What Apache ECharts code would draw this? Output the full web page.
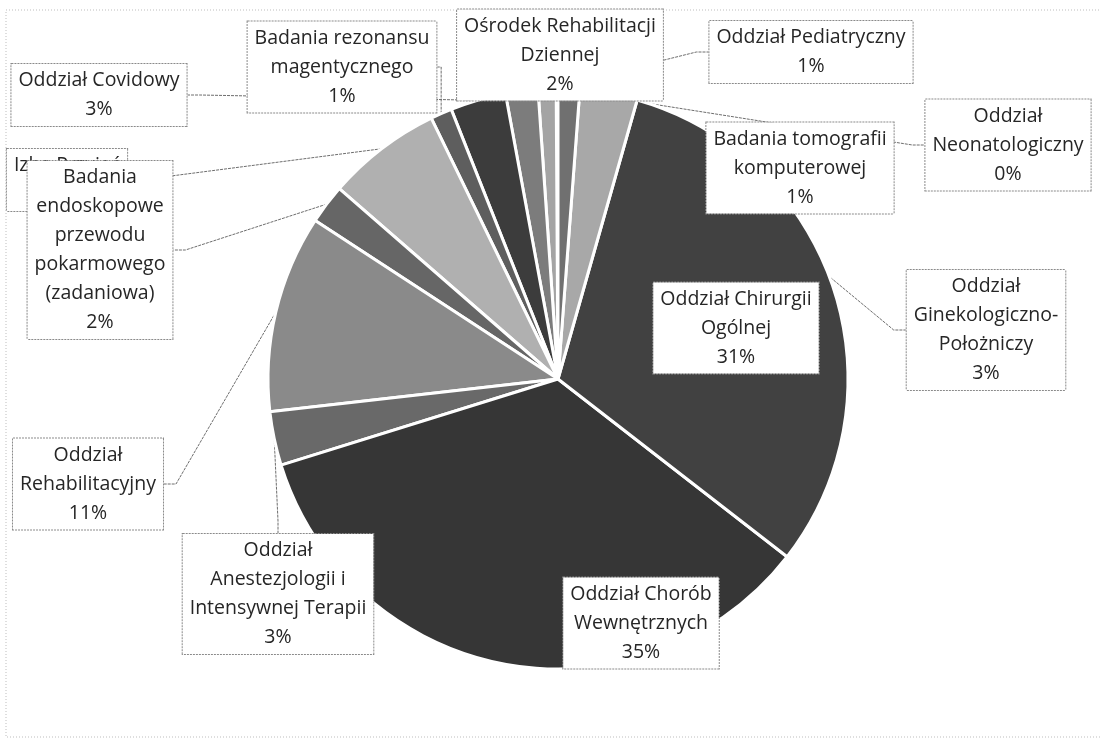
<!DOCTYPE html>
<html>
<head>
<meta charset="utf-8">
<script src="https://cdn.jsdelivr.net/npm/echarts@6/dist/echarts.min.js"></script>
<style>
  html, body { margin: 0; padding: 0; background: #fff; }
  #chart { width: 1100px; height: 741px; }
</style>
</head>
<body>
<div id="chart"></div>
<script>
// kolejność przeciwnie do ruchu wskazówek zegara, od godziny 12
var categories = [
    'Oddział Neonatologiczny',
    'Oddział Pediatryczny',
    'Ośrodek Rehabilitacji Dziennej',
    'Oddział Covidowy',
    'Badania rezonansu magentycznego',
    'Izba Przyjęć',
    'Badania endoskopowe przewodu pokarmowego (zadaniowa)',
    'Oddział Rehabilitacyjny',
    'Oddział Anestezjologii i Intensywnej Terapii',
    'Oddział Chorób Wewnętrznych',
    'Oddział Chirurgii Ogólnej',
    'Oddział Ginekologiczno-Położniczy',
    'Badania tomografii komputerowej'
];
// udział procentowy
var values = [0.1, 1.0, 1.8, 3.1, 1.2, 6.4, 2.2, 11.0, 3.0, 34.7, 31.1, 3.2, 1.2];

// podpisy łamane jak w oryginale
var labelNames = [
    'Oddział\nNeonatologiczny',
    'Oddział Pediatryczny',
    'Ośrodek Rehabilitacji\nDziennej',
    'Oddział Covidowy',
    'Badania rezonansu\nmagentycznego',
    'Izba Przyjęć',
    'Badania\nendoskopowe\nprzewodu\npokarmowego\n(zadaniowa)',
    'Oddział\nRehabilitacyjny',
    'Oddział\nAnestezjologii i\nIntensywnej Terapii',
    'Oddział Chorób\nWewnętrznych',
    'Oddział Chirurgii\nOgólnej',
    'Oddział\nGinekologiczno-\nPołożniczy',
    'Badania tomografii\nkomputerowej'
];

var colors = ['#555555', '#a4a4a4', '#7c7c7c', '#3c3c3c', '#5e5e5e', '#b0b0b0', '#666666',
              '#8a8a8a', '#696969', '#363636', '#414141', '#a8a8a8', '#707070'];

// środki ramek z podpisami
var labelPos = [
    [1008, 145], [811, 52], [560, 55], [99, 95], [342, 67], [67, 180], [100, 250],
    [88, 484], [278, 594], [641, 623], [736, 328], [986, 330], [800, 168]
];

var myChart = echarts.init(document.getElementById('chart'));

var option = {
    backgroundColor: '#fff',
    color: colors,
    animation: false,
    graphic: [{
        type: 'rect',
        shape: { x: 6, y: 10, width: 1100, height: 727 },
        style: { fill: 'none', stroke: '#bdbdbd', lineWidth: 1, lineDash: [1, 2] },
        silent: true
    }],
    series: [{
        type: 'pie',
        center: [558, 379],
        radius: 290,
        startAngle: 90,
        clockwise: false,
        percentPrecision: 0,
        avoidLabelOverlap: false,
        itemStyle: { borderColor: '#fff', borderWidth: 3 },
        label: {
            show: true,
            position: 'outside',
            fontFamily: 'Open Sans',
            fontSize: 19.5,
            lineHeight: 29,
            color: '#262626',
            align: 'center',
            backgroundColor: '#fff',
            borderColor: '#8a8a8a',
            borderWidth: 1,
            borderType: [2, 1],
            padding: [2, 7, 2, 7],
            formatter: function (p) {
                return labelNames[p.dataIndex] + '\n' + p.percent + '%';
            }
        },
        labelLine: {
            show: true,
            length: 10,
            length2: 12,
            lineStyle: { color: '#6e6e6e', width: 1, type: [3, 1] }
        },
        labelLayout: function (params) {
            var p = labelPos[params.dataIndex];
            return { x: p[0], y: p[1], align: 'center', verticalAlign: 'middle' };
        },
        data: categories.map(function (name, i) {
            return { name: name, value: values[i] };
        })
    }]
};

myChart.setOption(option);
</script>
</body>
</html>
